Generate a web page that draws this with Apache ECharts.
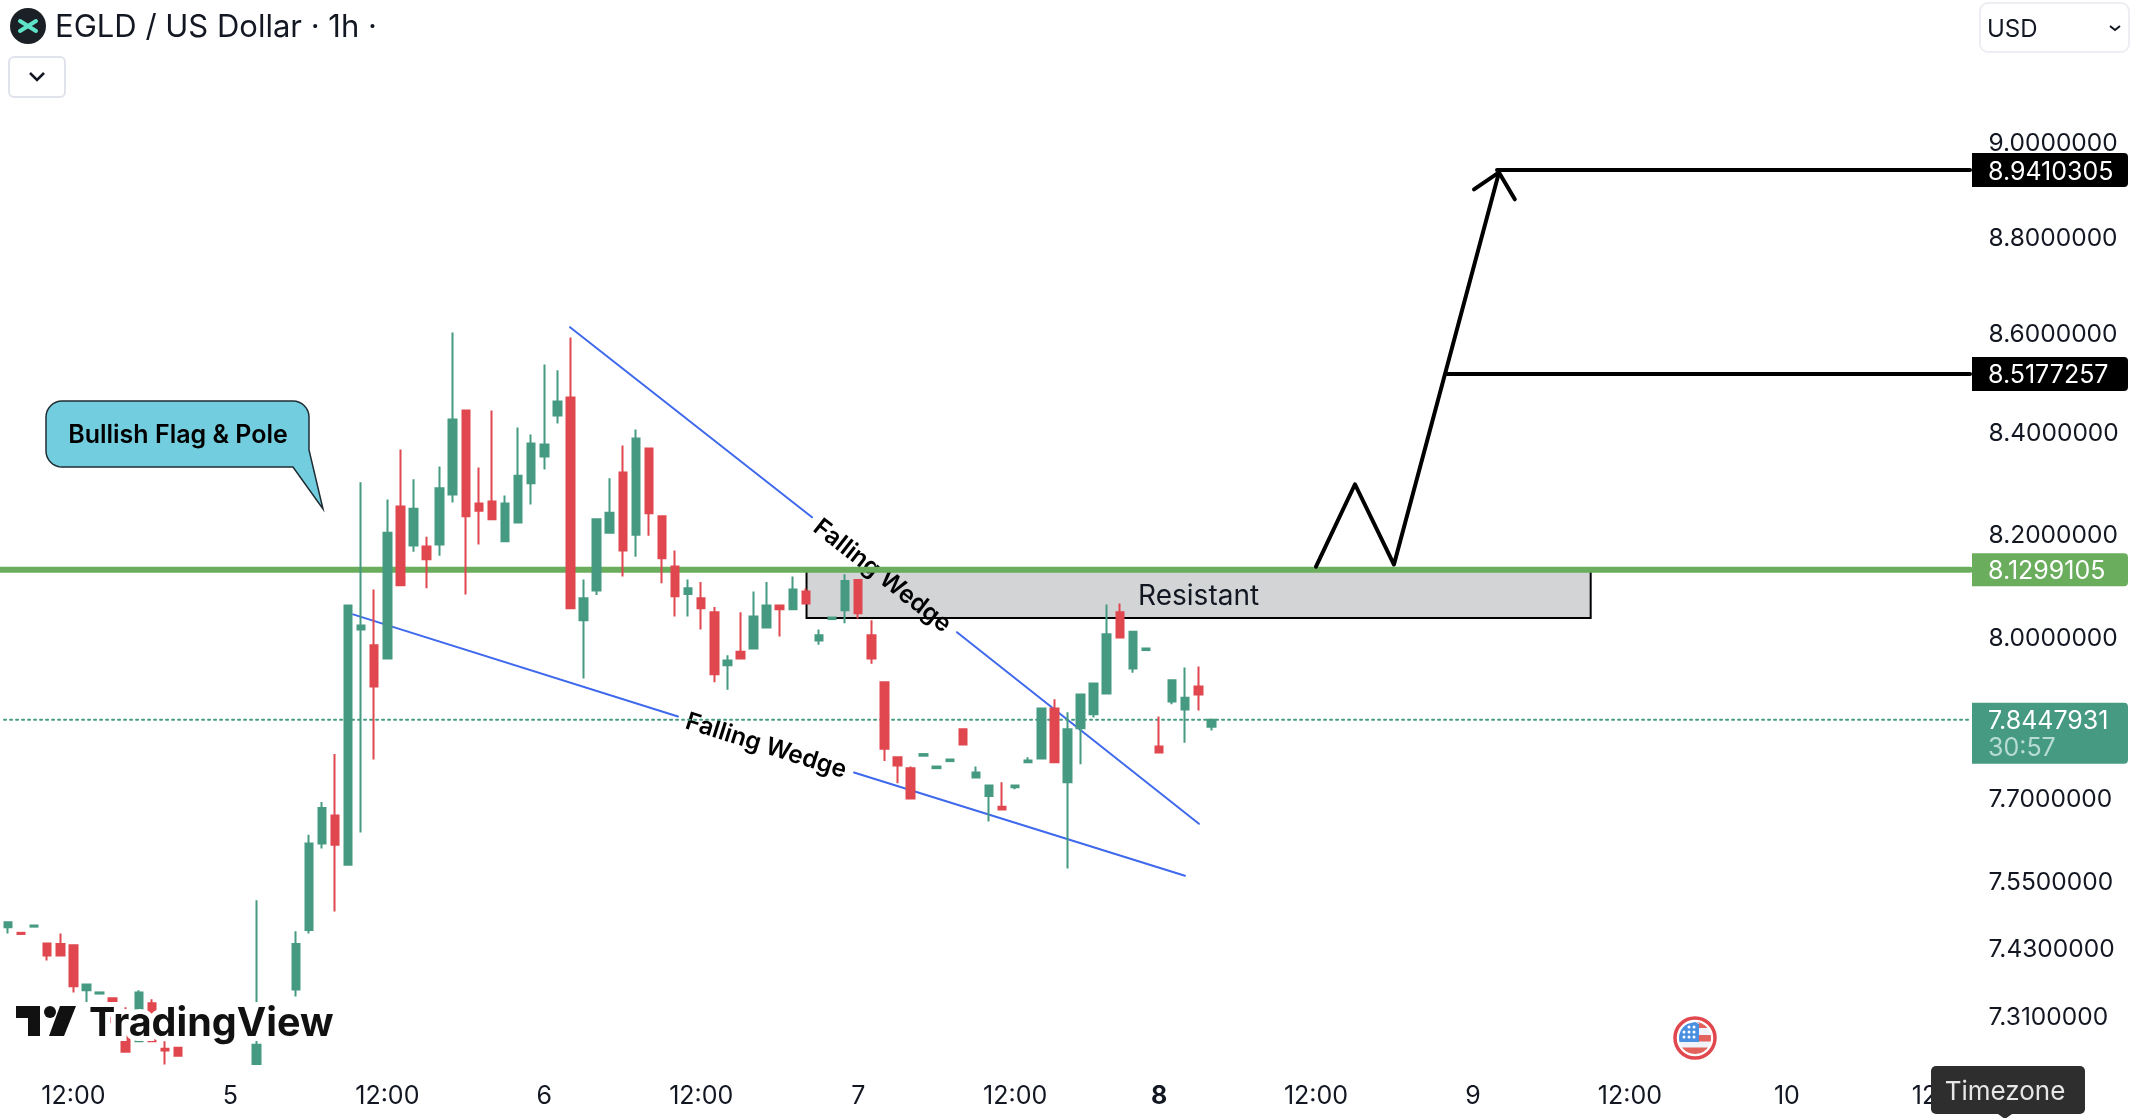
<!DOCTYPE html>
<html>
<head>
<meta charset="utf-8">
<title>EGLD / US Dollar</title>
<script src="https://cdn.jsdelivr.net/npm/echarts@6/dist/echarts.min.js"></script>
<style>
    html, body {margin: 0; padding: 0; background: #fff;}
    #chart {width: 2138px; height: 1118px;}
</style>
</head>
<body>
<div id="chart"></div>
<script>
// hourly candles. null = candle sits below the pane
var opens = [
    7.467, 7.457, 7.468, 7.438, 7.437, 7.435, 7.356, 7.350, 7.342, 7.289,
    7.267, 7.333, 7.254, 7.256, null, null, null, null, null, 7.228,
    null, null, 7.357, 7.462, 7.617, 7.668, 7.579, 8.015, 7.985, 7.960,
    8.253, 8.177, 8.175, 8.179, 8.277, 8.444, 8.259, 8.263, 8.185, 8.222,
    8.299, 8.352, 8.434, 8.470, 8.033, 8.090, 8.202, 8.320, 8.198, 8.368,
    8.234, 8.136, 8.083, 8.075, 8.048, 7.947, 7.973, 7.979, 8.019, 8.061,
    8.054, 8.088, 7.994, 8.035, 8.052, 8.110, 8.004, 7.915, 7.775, 7.755,
    7.778, 7.755, 7.768, 7.827, 7.738, 7.704, 7.684, 7.720, 7.766, 7.773,
    7.866, 7.729, 7.829, 7.855, 7.894, 8.048, 7.941, 7.976, 7.795, 7.879,
    7.864, 7.907, 7.832
];
var closes = [
    7.476, 7.455, 7.470, 7.417, 7.417, 7.363, 7.366, 7.352, 7.300, 7.249,
    7.352, 7.267, 7.251, 7.242, null, null, null, null, null, 7.261,
    null, null, 7.437, 7.617, 7.682, 7.615, 8.061, 8.023, 7.907, 8.202,
    8.100, 8.249, 8.150, 8.289, 8.426, 8.234, 8.245, 8.228, 8.259, 8.314,
    8.378, 8.376, 8.462, 8.056, 8.075, 8.228, 8.241, 8.167, 8.388, 8.240,
    8.152, 8.079, 8.094, 8.056, 7.930, 7.956, 7.960, 8.040, 8.061, 8.054,
    8.092, 8.065, 8.004, 8.038, 8.108, 8.046, 7.960, 7.791, 7.760, 7.699,
    7.781, 7.758, 7.771, 7.799, 7.747, 7.723, 7.679, 7.723, 7.769, 7.866,
    7.766, 7.827, 7.892, 7.913, 8.006, 8.000, 8.011, 7.979, 7.784, 7.919,
    7.886, 7.892, 7.845
];
var lows = [
    7.456, 7.455, 7.468, 7.408, 7.417, 7.352, 7.335, 7.350, 7.300, 7.247,
    7.267, 7.267, 7.227, 7.242, null, null, null, null, null, 7.228,
    null, null, 7.345, 7.456, 7.608, 7.495, 7.579, 7.637, 7.771, 7.960,
    8.100, 8.165, 8.094, 8.157, 8.261, 8.082, 8.179, 8.228, 8.185, 8.222,
    8.257, 8.326, 8.418, 8.056, 7.922, 8.081, 8.202, 8.117, 8.155, 8.196,
    8.104, 8.040, 8.040, 8.015, 7.915, 7.901, 7.960, 7.979, 8.019, 8.002,
    8.054, 8.065, 7.986, 8.035, 8.027, 8.036, 7.950, 7.768, 7.727, 7.699,
    7.778, 7.755, 7.768, 7.799, 7.738, 7.657, 7.679, 7.716, 7.766, 7.773,
    7.766, 7.572, 7.762, 7.849, 7.894, 8.000, 7.933, 7.976, 7.784, 7.874,
    7.802, 7.862, 7.825
];
var highs = [
    7.476, 7.457, 7.470, 7.440, 7.456, 7.435, 7.366, 7.352, 7.342, 7.326,
    7.356, 7.340, 7.267, 7.256, null, null, null, null, null, 7.515,
    null, null, 7.460, 7.633, 7.693, 7.781, 8.061, 8.301, 8.092, 8.267,
    8.366, 8.307, 8.194, 8.332, 8.602, 8.444, 8.330, 8.444, 8.275, 8.410,
    8.396, 8.537, 8.525, 8.592, 8.111, 8.228, 8.309, 8.374, 8.406, 8.368,
    8.234, 8.167, 8.111, 8.106, 8.058, 7.966, 8.048, 8.088, 8.106, 8.061,
    8.117, 8.094, 8.015, 8.038, 8.121, 8.110, 8.033, 7.915, 7.775, 7.758,
    7.781, 7.758, 7.771, 7.827, 7.758, 7.723, 7.729, 7.725, 7.775, 7.866,
    7.883, 7.859, 7.892, 7.913, 8.063, 8.065, 8.011, 7.979, 7.851, 7.919,
    7.943, 7.945, 7.845
];

// x axis: one category per hour, labels only at these indexes
var hourCount = 151;
var tickIndexes = [5, 17, 29, 41, 53, 65, 77, 88, 100, 112, 124, 136, 148];
var tickLabels = ['12:00', '5', '12:00', '6', '12:00', '7', '12:00', '8', '12:00', '9', '12:00', '10', '12:00'];
var priceTicks = [9, 8.8, 8.6, 8.4, 8.2, 8, 7.7, 7.55, 7.43, 7.31];

// levels
var supportLevel = 8.1299105;
var lastPrice = 7.8447931;
var targetOne = 8.5177257;
var targetTwo = 8.9410305;
var countdown = '30:57';

// drawings, [hour index, price]
var upperWedgeA = [[42.97, 8.613], [61.47, 8.232]];
var upperWedgeB = [[72.55, 8.010], [91.05, 7.653]];
var lowerWedgeA = [[26.38, 8.044], [51.22, 7.851]];
var lowerWedgeB = [[64.68, 7.747], [89.98, 7.559]];
var projection = [[100.0, 8.136], [102.98, 8.297], [105.96, 8.140], [113.99, 8.936]];
var arrowHead = [[112.08, 8.900], [113.99, 8.936], [115.2, 8.879]];
var targetOneLine = [[110.02, targetOne], [150, targetOne]];
var targetTwoLine = [[113.84, targetTwo], [150, targetTwo]];
var supportLine = [[-0.62, supportLevel], [150, supportLevel]];
var lastPriceLine = [[-0.3, lastPrice], [149.85, lastPrice]];
var resistantBox = [61.05, 121.0, supportLevel, 8.037];
var wedgeNotes = [[66.83, 8.118, -38], [57.95, 7.796, -17.5]];

var FONT = 'Inter, "Noto Sans", sans-serif';
var TEXT = '#131722';
var GREEN = '#459a81';
var RED = '#e0474e';
var LEVEL = '#6aad5c';
var BLUE = '#3f69ec';

function line_series(points, color, width, z, dash){
    return {
        type: 'line',
        xAxisIndex: 1,
        yAxisIndex: 0,
        data: points,
        symbol: 'none',
        silent: true,
        clip: false,
        z: z,
        lineStyle: {color: color, width: width, type: dash || 'solid', cap: 'round', join: 'round'}
    };
}

function price_tag(price, text, fill, height, sub){
    return function(params, api){
        var y = api.coord([0, price])[1];
        var top = sub ? y - 17 : y - height / 2;
        var kids = [{
            type: 'rect',
            shape: {x: 1972, y: top, width: 156, height: height, r: [0, 4, 4, 0]},
            style: {fill: fill}
        }, {
            type: 'text',
            style: {text: text, x: 1988, y: y + 2, fill: '#fff', font: '400 25px ' + FONT, textAlign: 'left', textVerticalAlign: 'middle'}
        }];
        if (sub){
            kids.push({
                type: 'text',
                style: {text: sub, x: 1988, y: y + 29, fill: '#b7dcd1', font: '400 25px ' + FONT, textAlign: 'left', textVerticalAlign: 'middle'}
            });
        }
        return {type: 'group', children: kids};
    };
}

function tag_series(render){
    return {
        type: 'custom',
        xAxisIndex: 1,
        yAxisIndex: 0,
        silent: true,
        z: 6,
        data: [[0, 8]],
        renderItem: render
    };
}

function arc_points(cx, cy, r, from, to){
    var out = [];
    for (var k = 0; k <= 8; k++){
        var a = (from + (to - from) * k / 8) * Math.PI / 180;
        out.push([cx + r * Math.cos(a), cy + r * Math.sin(a)]);
    }
    return out;
}

// clipped part of a circle, used for the little flag
function chord(cx, cy, r, x0, x1, y0, y1, fill){
    var right = [], left = [];
    for (var k = 0; k <= 10; k++){
        var y = y0 + (y1 - y0) * k / 10;
        var half = Math.sqrt(Math.max(r * r - y * y, 0));
        right.push([cx + Math.min(x1, half), cy + y]);
        left.unshift([cx + Math.max(x0, -half), cy + y]);
    }
    return {type: 'polygon', z: 100, shape: {points: right.concat(left)}, style: {fill: fill}};
}

function header_graphics(){
    var els = [];
    // coin icon + title
    els.push({type: 'circle', z: 100, shape: {cx: 28, cy: 26, r: 18}, style: {fill: '#1b2027'}});
    els.push({type: 'line', z: 100, shape: {x1: 20, y1: 21, x2: 36, y2: 31}, style: {stroke: '#5fe3c8', lineWidth: 4, lineCap: 'round'}});
    els.push({type: 'line', z: 100, shape: {x1: 20, y1: 31, x2: 36, y2: 21}, style: {stroke: '#5fe3c8', lineWidth: 4, lineCap: 'round'}});
    els.push({type: 'text', z: 100, x: 55, y: 28, style: {text: 'EGLD / US Dollar · 1h ·', fill: TEXT, font: '400 31px ' + FONT, textVerticalAlign: 'middle'}});

    // collapse button
    els.push({type: 'rect', z: 100, shape: {x: 9, y: 57, width: 56, height: 40, r: 5}, style: {fill: '#fff', stroke: '#e0e3eb', lineWidth: 2}});
    els.push({type: 'polyline', z: 100, shape: {points: [[30, 73], [37, 80], [44, 73]]}, style: {stroke: TEXT, lineWidth: 2.5, fill: null}});

    // currency select
    els.push({type: 'rect', z: 100, shape: {x: 1980, y: 3, width: 149, height: 49, r: 8}, style: {fill: '#fff', stroke: '#eceef2', lineWidth: 2}});
    els.push({type: 'text', z: 100, x: 1987, y: 30, style: {text: 'USD', fill: TEXT, font: '400 24px ' + FONT, textVerticalAlign: 'middle'}});
    els.push({type: 'polyline', z: 100, shape: {points: [[2110, 26], [2115, 30], [2120, 26]]}, style: {stroke: TEXT, lineWidth: 2, fill: null}});

    // speech bubble
    var pts = arc_points(62, 417, 16, 180, 270).concat(arc_points(293, 417, 16, 270, 360));
    pts.push([309, 450], [323, 509], [293, 467]);
    pts = pts.concat(arc_points(62, 451, 16, 90, 180));
    els.push({type: 'polygon', z: 100, shape: {points: pts}, style: {fill: '#72cddf', stroke: '#1f2d33', lineWidth: 1.5}});
    els.push({type: 'text', z: 100, x: 178, y: 435, style: {text: 'Bullish Flag & Pole', fill: '#000', font: '600 25px ' + FONT, textAlign: 'center', textVerticalAlign: 'middle'}});

    // watermark
    var halo = '#fff';
    els.push({type: 'text', z: 100, x: 89, y: 1024, style: {text: 'TradingView', fill: '#111', font: '700 39.5px ' + FONT, textVerticalAlign: 'middle', stroke: halo, lineWidth: 10}});
    els.push({type: 'polygon', z: 100, shape: {points: [[16, 1006], [40, 1006], [40, 1036], [28, 1036], [28, 1018], [16, 1018]]}, style: {fill: '#111'}});
    els.push({type: 'circle', z: 100, shape: {cx: 50, cy: 1012, r: 6}, style: {fill: '#111'}});
    els.push({type: 'polygon', z: 100, shape: {points: [[60, 1006], [76, 1006], [64, 1036], [49, 1036]]}, style: {fill: '#111'}});

    // flag
    var fx = 1695, fy = 1038;
    els.push({type: 'circle', z: 100, shape: {cx: fx, cy: fy, r: 20}, style: {fill: '#fff', stroke: RED, lineWidth: 3.5}});
    els.push({type: 'circle', z: 100, shape: {cx: fx, cy: fy, r: 16}, style: {fill: '#f1f3fb'}});
    els.push(chord(fx, fy, 16, 4, 16, -16, -10, '#e3625c'));
    els.push(chord(fx, fy, 16, 4, 16, -3, 3.5, '#e3625c'));
    els.push(chord(fx, fy, 16, -16, 16, 9.5, 16, '#e3625c'));
    els.push(chord(fx, fy, 16, -16, 4, -16, 4, '#4a8fe0'));
    var stars = [[-6, -11], [-1, -11], [-11, -6], [-6, -6], [-1, -6], [-11, -1], [-6, -1], [-1, -1]];
    for (var s = 0; s < stars.length; s++){
        els.push({type: 'circle', z: 100, shape: {cx: fx + stars[s][0], cy: fy + stars[s][1], r: 1.5}, style: {fill: '#fff'}});
    }

    // timezone tooltip
    els.push({type: 'rect', z: 100, shape: {x: 1931, y: 1066, width: 154, height: 48, r: 5}, style: {fill: '#2e2e2e'}});
    els.push({type: 'polygon', z: 100, shape: {points: [[1998, 1114], [2012, 1114], [2005, 1119]]}, style: {fill: '#2e2e2e'}});
    els.push({type: 'text', z: 100, x: 2005, y: 1092, style: {text: 'Timezone', fill: '#e6e6e6', font: '400 26px ' + FONT, textAlign: 'center', textVerticalAlign: 'middle'}});
    return els;
}

function paint_chart(){
    var chart = echarts.init(document.getElementById('chart'), null, {renderer: 'canvas'});

    var categories = [];
    for (var i = 0; i < hourCount; i++){
        var t = tickIndexes.indexOf(i);
        categories.push(t >= 0 ? tickLabels[t] : '');
    }

    var candles = [];
    for (var c = 0; c < opens.length; c++){
        if (opens[c] === null){
            candles.push(['-', '-', '-', '-']);
        } else {
            candles.push([opens[c], closes[c], lows[c], highs[c]]);
        }
    }

    var option = {};
    option['animation'] = false;
    option['backgroundColor'] = '#fff';
    option['grid'] = {left: 1.46, top: 0.6, width: 13.08 * hourCount, height: 1064};

    option['xAxis'] = [{
        type: 'category',
        data: categories,
        axisLine: {show: false},
        axisTick: {show: false},
        splitLine: {show: false},
        axisLabel: {
            interval: 0,
            margin: 19,
            color: TEXT,
            fontFamily: FONT,
            fontSize: 25,
            formatter: function(value){
                return value === '8' ? '{bold|8}' : value;
            },
            rich: {bold: {fontWeight: 700, fontSize: 25, fontFamily: FONT, color: TEXT}}
        }
    }, {
        // same span as the categories, lets drawings sit between two hours
        type: 'value',
        min: -0.5,
        max: hourCount - 0.5,
        show: false
    }];

    option['yAxis'] = {
        type: 'log',
        logBase: 10,
        min: 7.2268,
        max: 9.309,
        position: 'right',
        axisLine: {show: false},
        axisTick: {show: false},
        splitLine: {show: false},
        axisLabel: {
            customValues: priceTicks,
            margin: 12,
            color: TEXT,
            fontFamily: FONT,
            fontSize: 24.5,
            formatter: function(value){
                return '{p|' + Number(value).toFixed(7) + '}';
            },
            rich: {p: {fontFamily: FONT, fontSize: 24.5, color: TEXT, padding: [3, 0, 0, 0]}}
        }
    };

    option['series'] = [
        {
            // resistance zone and its caption
            type: 'custom',
            xAxisIndex: 1,
            yAxisIndex: 0,
            silent: true,
            z: 1,
            data: [[resistantBox[0], resistantBox[2]]],
            renderItem: function(params, api){
                var a = api.coord([resistantBox[0], resistantBox[2]]);
                var b = api.coord([resistantBox[1], resistantBox[3]]);
                return {type: 'group', children: [{
                    type: 'rect',
                    shape: {x: a[0], y: a[1], width: b[0] - a[0], height: b[1] - a[1]},
                    style: {fill: '#d2d4d6', stroke: '#000', lineWidth: 2}
                }, {
                    type: 'text',
                    style: {
                        text: 'Resistant',
                        x: (a[0] + b[0]) / 2,
                        y: (a[1] + b[1]) / 2 + 3,
                        fill: TEXT,
                        font: '400 28px ' + FONT,
                        textAlign: 'center',
                        textVerticalAlign: 'middle'
                    }
                }]};
            }
        },
        {
            type: 'custom',
            xAxisIndex: 1,
            yAxisIndex: 0,
            silent: true,
            z: 2,
            data: wedgeNotes,
            renderItem: function(params, api){
                var p = api.coord([api.value(0), api.value(1)]);
                return {
                    type: 'text',
                    x: p[0],
                    y: p[1],
                    rotation: api.value(2) * Math.PI / 180,
                    style: {
                        text: 'Falling Wedge',
                        x: 0,
                        y: 0,
                        fill: '#000',
                        font: '600 24.5px ' + FONT,
                        textAlign: 'center',
                        textVerticalAlign: 'middle'
                    }
                };
            }
        },
        line_series(upperWedgeA, BLUE, 2, 3),
        line_series(upperWedgeB, BLUE, 2, 3),
        line_series(lowerWedgeA, BLUE, 2, 3),
        line_series(lowerWedgeB, BLUE, 2, 3),
        line_series(lastPriceLine, GREEN, 2, 3, [2, 4]),
        line_series(supportLine, LEVEL, 6, 3),
        {
            type: 'candlestick',
            xAxisIndex: 0,
            yAxisIndex: 0,
            data: candles,
            barWidth: 8,
            silent: true,
            z: 4,
            itemStyle: {
                color: GREEN,
                color0: RED,
                borderColor: GREEN,
                borderColor0: RED,
                borderWidth: 2
            }
        },
        line_series(projection, '#000', 4, 5),
        line_series(arrowHead, '#000', 4, 5),
        line_series(targetOneLine, '#000', 4, 5),
        line_series(targetTwoLine, '#000', 4, 5),
        tag_series(price_tag(targetTwo, targetTwo.toFixed(7), '#000', 34)),
        tag_series(price_tag(targetOne, targetOne.toFixed(7), '#000', 34)),
        tag_series(price_tag(supportLevel, supportLevel.toFixed(7), LEVEL, 33)),
        tag_series(price_tag(lastPrice, lastPrice.toFixed(7), GREEN, 61, countdown))
    ];

    option['graphic'] = {elements: header_graphics()};

    option && chart.setOption(option);
}

paint_chart();
</script>
</body>
</html>
